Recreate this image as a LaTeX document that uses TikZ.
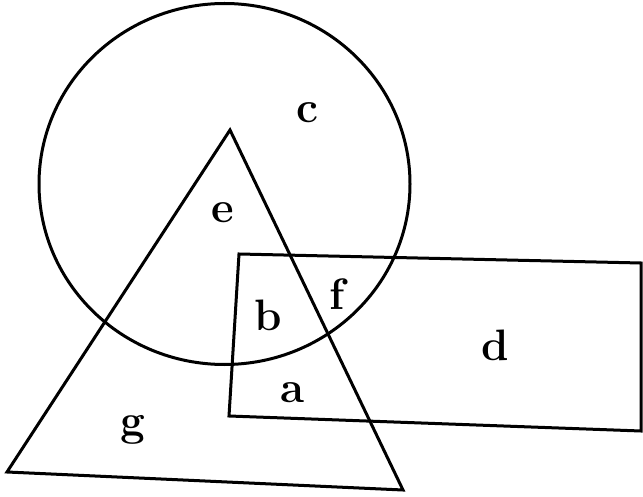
\documentclass[tikz,border=0pt]{standalone}
\begin{document}
\begin{tikzpicture}[x=1pt,y=-1pt,
  outline/.style={line width=3pt,line join=miter,black},
  lbl/.style={font=\fontsize{44}{44}\selectfont\bfseries,inner sep=0pt}]
\useasboundingbox (0,0) rectangle (643,497);
% circle
\coordinate (cc) at (224.5,184);
\draw[outline] (cc) ellipse [x radius=185.5, y radius=180.5];
% triangle
\coordinate (ta) at (230,130);
\coordinate (tl) at (7,472);
\coordinate (tr) at (403,490);
\draw[outline] (ta) -- (tl) -- (tr) -- cycle;
% rectangle
\coordinate (r1) at (239,254);
\coordinate (r2) at (641,263);
\coordinate (r3) at (641,431);
\coordinate (r4) at (229,416);
\draw[outline] (r1) -- (r2) -- (r3) -- (r4) -- cycle;
% labels
\node[lbl] (c) at (307,113) {c};
\node[lbl] (e) at (223,213) {e};
\node[lbl] (b) at (268,315) {b};
\node[lbl] (f) at (337,294) {f};
\node[lbl] (d) at (495,345) {d};
\node[lbl] (a) at (293,393) {a};
\node[lbl] (g) at (133,430) {g};
\end{tikzpicture}
\end{document}
